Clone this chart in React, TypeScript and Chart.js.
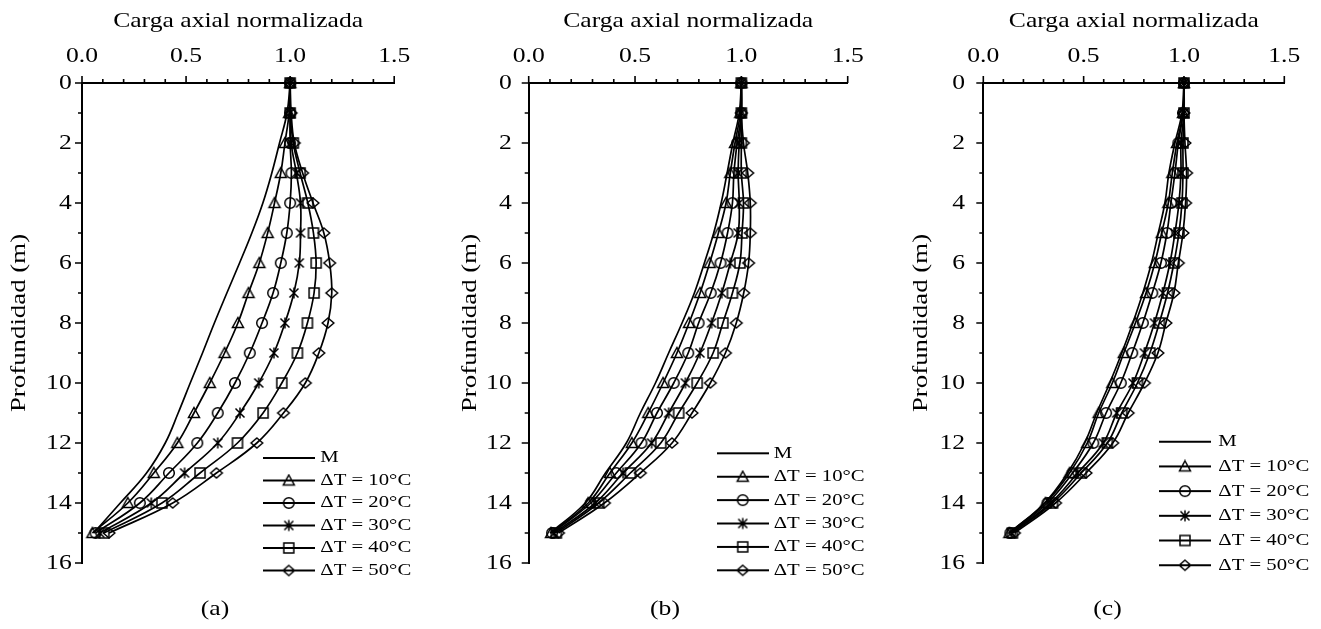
import React, { useEffect, useRef } from 'react';
import { Chart, registerables } from 'chart.js';

Chart.register(...registerables);

// ---------- data ----------
const profundidad = [0, 1, 2, 3, 4, 5, 6, 7, 8, 9, 10, 11, 12, 13, 14, 15];
const nombresSeries = ['M', 'ΔT = 10°C', 'ΔT = 20°C', 'ΔT = 30°C', 'ΔT = 40°C', 'ΔT = 50°C'];
const etiquetasX = [0, 0.5, 1.0, 1.5];
const etiquetasY = [0, 2, 4, 6, 8, 10, 12, 14, 16];
const letrasPanel = ['(a)', '(b)', '(c)'];

// panel (a)
const aM = [1.0, 0.985, 0.949, 0.912, 0.869, 0.816, 0.757, 0.696, 0.636, 0.579, 0.52, 0.462, 0.4, 0.31, 0.184, 0.056];
const aT10 = [1.0, 0.995, 0.975, 0.955, 0.925, 0.892, 0.852, 0.8, 0.749, 0.685, 0.614, 0.538, 0.458, 0.345, 0.22, 0.05];
const aT20 = [1.0, 1.0, 1.0, 1.006, 1.0, 0.984, 0.955, 0.918, 0.865, 0.806, 0.735, 0.652, 0.554, 0.418, 0.278, 0.065];
const aT30 = [1.0, 1.0, 1.005, 1.03, 1.05, 1.05, 1.044, 1.018, 0.975, 0.922, 0.849, 0.759, 0.652, 0.493, 0.333, 0.085];
const aT40 = [1.0, 1.0, 1.015, 1.048, 1.085, 1.112, 1.125, 1.115, 1.083, 1.035, 0.96, 0.87, 0.747, 0.567, 0.384, 0.105];
const aT50 = [1.0, 1.005, 1.02, 1.06, 1.11, 1.162, 1.19, 1.2, 1.182, 1.138, 1.073, 0.968, 0.84, 0.646, 0.436, 0.13];

// panel (b)
const bM = [1.0, 0.99, 0.96, 0.933, 0.905, 0.87, 0.826, 0.779, 0.721, 0.658, 0.596, 0.525, 0.459, 0.361, 0.266, 0.1];
const bT10 = [1.0, 0.995, 0.97, 0.948, 0.928, 0.892, 0.851, 0.806, 0.754, 0.697, 0.632, 0.562, 0.485, 0.382, 0.28, 0.105];
const bT20 = [1.0, 1.0, 0.98, 0.965, 0.958, 0.935, 0.902, 0.856, 0.799, 0.75, 0.682, 0.603, 0.53, 0.412, 0.292, 0.11];
const bT30 = [1.0, 1.0, 0.99, 0.985, 0.99, 0.985, 0.948, 0.908, 0.86, 0.805, 0.737, 0.658, 0.578, 0.444, 0.313, 0.12];
const bT40 = [1.0, 1.0, 1.0, 1.0, 1.01, 1.003, 0.993, 0.958, 0.913, 0.867, 0.792, 0.705, 0.621, 0.478, 0.329, 0.13];
const bT50 = [1.0, 1.0, 1.01, 1.03, 1.042, 1.042, 1.034, 1.011, 0.976, 0.925, 0.854, 0.768, 0.674, 0.525, 0.356, 0.14];

// panel (c)
const cM = [1.0, 0.99, 0.955, 0.925, 0.905, 0.872, 0.838, 0.795, 0.745, 0.69, 0.63, 0.565, 0.505, 0.42, 0.305, 0.13];
const cT10 = [1.0, 0.995, 0.965, 0.942, 0.922, 0.889, 0.855, 0.811, 0.758, 0.7, 0.643, 0.575, 0.518, 0.43, 0.31, 0.13];
const cT20 = [1.0, 0.995, 0.972, 0.955, 0.935, 0.915, 0.885, 0.842, 0.795, 0.742, 0.685, 0.612, 0.548, 0.445, 0.32, 0.135];
const cT30 = [1.0, 1.0, 0.985, 0.985, 0.975, 0.955, 0.93, 0.895, 0.853, 0.803, 0.746, 0.665, 0.598, 0.47, 0.335, 0.14];
const cT40 = [1.0, 1.0, 0.995, 0.995, 0.99, 0.975, 0.95, 0.918, 0.877, 0.83, 0.768, 0.69, 0.618, 0.488, 0.345, 0.145];
const cT50 = [1.0, 1.0, 1.005, 1.013, 1.008, 0.995, 0.972, 0.95, 0.91, 0.87, 0.803, 0.722, 0.645, 0.512, 0.36, 0.155];

const seriesPorPanel = [
  [aM, aT10, aT20, aT30, aT40, aT50],
  [bM, bT10, bT20, bT30, bT40, bT50],
  [cM, cT10, cT20, cT30, cT40, cT50],
];
const marcadores = ['none', 'tri', 'cir', 'star', 'sq', 'dia'];

// ---------- layout ----------
const FONT = "'Liberation Serif', 'Times New Roman', serif";
const K = 1.22; // horizontal text stretch
const H = 629;
const layouts = [
  { left: 0, width: 430, yWidth: 82, padRight: 35.8, yTitlePad: 5.8, yTickPad: 3.3, legX: 265.8, legY: 449.5, legPad: 5.5, boxW: 46 },
  { left: 440, width: 450, yWidth: 88.7, padRight: 42.3, yTitlePad: 16.8, yTickPad: 10, legX: 280.2, legY: 444.8, legPad: 6.4, boxW: 45 },
  { left: 894, width: 427, yWidth: 89.3, padRight: 36.7, yTitlePad: 13.8, yTickPad: 11.3, legX: 266.2, legY: 433.2, legPad: 7.7, boxW: 49.6 },
];

function makeMarker(kind: string, w: number, h: number, withLine: boolean): HTMLCanvasElement {
  const c = document.createElement('canvas');
  c.width = w;
  c.height = h;
  const g = c.getContext('2d') as CanvasRenderingContext2D;
  g.strokeStyle = '#000';
  const cx = w / 2;
  const cy = h / 2;
  if (withLine) {
    g.lineWidth = 1.8;
    g.beginPath();
    g.moveTo(0, cy);
    g.lineTo(w, cy);
    g.stroke();
  }
  g.lineWidth = 1.5;
  g.beginPath();
  switch (kind) {
    case 'tri':
      g.moveTo(cx, cy - 5.5);
      g.lineTo(cx + 5.5, cy + 4.5);
      g.lineTo(cx - 5.5, cy + 4.5);
      g.closePath();
      break;
    case 'cir':
      g.arc(cx, cy, 5.3, 0, Math.PI * 2);
      break;
    case 'star':
      g.moveTo(cx - 4.5, cy - 4.5);
      g.lineTo(cx + 4.5, cy + 4.5);
      g.moveTo(cx + 4.5, cy - 4.5);
      g.lineTo(cx - 4.5, cy + 4.5);
      g.moveTo(cx, cy - 5.5);
      g.lineTo(cx, cy + 5.5);
      break;
    case 'sq':
      g.rect(cx - 5, cy - 5, 10, 10);
      break;
    case 'dia':
      g.moveTo(cx, cy - 5);
      g.lineTo(cx + 5.8, cy);
      g.lineTo(cx, cy + 5);
      g.lineTo(cx - 5.8, cy);
      g.closePath();
      break;
    default:
      break;
  }
  if (kind !== 'none') g.stroke();
  return c;
}

const stretchText = {
  id: 'stretchText',
  beforeDraw(chart: any) {
    const ctx: any = chart.ctx;
    if (ctx.__stretched) return;
    const origFill = CanvasRenderingContext2D.prototype.fillText;
    ctx.fillText = function (text: string, x: number, y: number, maxWidth?: number) {
      this.save();
      this.translate(x, y);
      this.scale(K, 1);
      if (maxWidth === undefined || maxWidth === null) {
        origFill.call(this, text, 0, 0);
      } else {
        origFill.call(this, text, 0, 0, maxWidth / K);
      }
      this.restore();
    };
    ctx.__stretched = true;
  },
};

const axisTicks = {
  id: 'axisTicks',
  afterDraw(chart: any) {
    const { ctx, chartArea } = chart;
    const xs = chart.scales.x;
    const ys = chart.scales.y;
    ctx.save();
    ctx.strokeStyle = '#000';
    ctx.lineWidth = 1.6;
    ctx.beginPath();
    xs.ticks.forEach((t: any) => {
      const px = xs.getPixelForValue(t.value);
      const major = Math.abs(t.value * 2 - Math.round(t.value * 2)) < 1e-6;
      ctx.moveTo(px, chartArea.top);
      ctx.lineTo(px, chartArea.top - (major ? 7 : 4));
    });
    ys.ticks.forEach((t: any) => {
      const py = ys.getPixelForValue(t.value);
      const major = Math.round(t.value) % 2 === 0;
      ctx.moveTo(chartArea.left, py);
      ctx.lineTo(chartArea.left - (major ? 7 : 4), py);
    });
    ctx.stroke();
    ctx.restore();
  },
};

function Panel({ idx }: { idx: number }) {
  const ref = useRef<HTMLCanvasElement>(null);
  const L = layouts[idx];
  useEffect(() => {
    const series = seriesPorPanel[idx];
    const pointImgs = marcadores.map((m) => makeMarker(m, 16, 16, false));
    const legendImgs = marcadores.map((m) => makeMarker(m, 52, 14, true));
    const placeBoxes = {
      id: 'placeBoxes',
      afterLayout(chart: any) {
        const lg = chart.legend;
        if (lg) {
          lg.left = L.legX - L.legPad;
          lg.top = L.legY - L.legPad;
          lg.right = chart.width;
          lg.bottom = chart.height;
          lg.width = lg.right - lg.left;
          lg.height = lg.bottom - lg.top;
        }
        const tb = chart.titleBlock;
        if (tb) {
          tb.left = 0;
          tb.right = chart.width;
          tb.width = chart.width;
        }
      },
    };
    const datasets = series.map((vals, i) => ({
      label: nombresSeries[i],
      data: profundidad.map((d, j) => ({ x: vals[j], y: d })),
      showLine: true,
      borderColor: '#000',
      borderWidth: 1.7,
      backgroundColor: 'transparent',
      pointStyle: i === 0 ? false : (pointImgs[i] as any),
      pointRadius: i === 0 ? 0 : 5,
      pointHoverRadius: i === 0 ? 0 : 5,
      tension: 0.4,
      clip: false as any,
    }));
    const chart = new Chart(ref.current as HTMLCanvasElement, {
      type: 'scatter',
      data: { datasets },
      plugins: [stretchText, axisTicks, placeBoxes],
      options: {
        animation: false,
        responsive: false,
        events: [],
        layout: { padding: { left: 0, right: L.padRight, top: 0, bottom: 0 } },
        scales: {
          x: {
            type: 'linear',
            position: 'top',
            min: 0,
            max: 1.5,
            ticks: {
              stepSize: 0.1,
              maxTicksLimit: 100,
              autoSkip: false,
              maxRotation: 0,
              minRotation: 0,
              padding: 7.4,
              color: '#000',
              font: { family: FONT, size: 21 },
              callback: (v: any) => {
                const n = Number(v);
                const hit = etiquetasX.find((e) => Math.abs(e - n) < 1e-6);
                return hit === undefined ? '' : hit.toFixed(1);
              },
            },
            grid: { display: false, drawTicks: true, tickLength: 7 },
            border: { display: true, color: '#000', width: 2 },
            title: {
              display: true,
              text: 'Carga axial normalizada',
              color: '#000',
              font: { family: FONT, size: 21 },
              padding: { top: 9.2, bottom: 0 },
            },
            afterFit: (s: any) => {
              s.height = 83;
            },
          },
          y: {
            type: 'linear',
            position: 'left',
            reverse: true,
            min: 0,
            max: 16,
            ticks: {
              stepSize: 1,
              maxTicksLimit: 100,
              autoSkip: false,
              padding: L.yTickPad,
              color: '#000',
              font: { family: FONT, size: 21 },
              callback: (v: any) => {
                const n = Math.round(Number(v));
                return etiquetasY.includes(n) ? String(n) : '';
              },
            },
            grid: { display: false, drawTicks: true, tickLength: 7 },
            border: { display: true, color: '#000', width: 2 },
            title: {
              display: true,
              text: 'Profundidad (m)',
              color: '#000',
              font: { family: FONT, size: 22 },
              padding: { top: L.yTitlePad, bottom: 0 },
            },
            afterFit: (s: any) => {
              s.width = L.yWidth;
            },
          },
        },
        plugins: {
          tooltip: { enabled: false },
          title: {
            display: true,
            text: letrasPanel[idx],
            position: 'bottom',
            color: '#000',
            font: { family: FONT, size: 21, weight: 'normal' },
            padding: { top: 33.4, bottom: 7.4 },
          },
          legend: {
            display: true,
            position: 'chartArea' as any,
            align: 'start',
            labels: {
              usePointStyle: true,
              pointStyleWidth: L.boxW,
              padding: L.legPad,
              color: '#000',
              font: { family: FONT, size: 17 },
              generateLabels: (ch: any) =>
                ch.data.datasets.map((ds: any, i: number) => ({
                  text: ds.label,
                  fillStyle: 'transparent',
                  strokeStyle: 'transparent',
                  lineWidth: 0,
                  pointStyle: legendImgs[i],
                  hidden: false,
                  datasetIndex: i,
                  fontColor: '#000',
                })),
            },
          },
        },
      } as any,
    });
    return () => chart.destroy();
  }, []);
  return (
    <div style={{ position: 'absolute', left: L.left, top: 0, width: L.width, height: H }}>
      <canvas ref={ref} width={L.width} height={H} style={{ display: 'block' }} />
    </div>
  );
}

export default function App() {
  return (
    <div style={{ position: 'absolute', left: 0, top: 0, width: 1321, height: H, background: '#fff', overflow: 'hidden' }}>
      <Panel idx={0} />
      <Panel idx={1} />
      <Panel idx={2} />
    </div>
  );
}
